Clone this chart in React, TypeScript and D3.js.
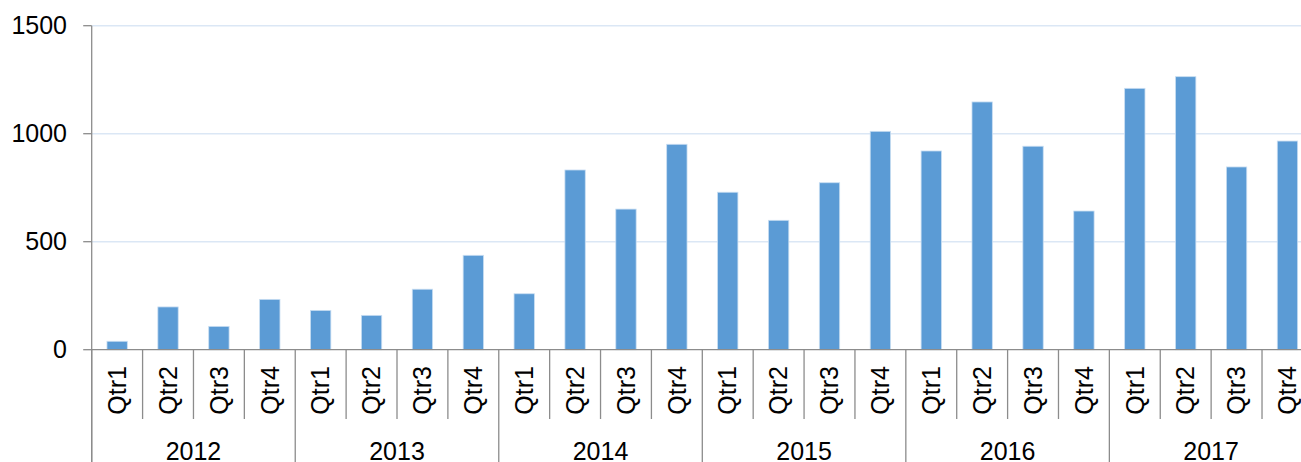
import React from "react";
import * as d3 from "d3";

const years = ["2012", "2013", "2014", "2015", "2016", "2017"];
const quarters = ["Qtr1", "Qtr2", "Qtr3", "Qtr4"];
const values = [
  39, 198, 108, 233,
  182, 159, 280, 437,
  259, 832, 651, 951,
  729, 599, 773, 1011,
  920, 1147, 942, 642,
  1210, 1264, 846, 966,
];
const yTicks = [0, 500, 1000, 1500];

const W = 1301;
const H = 462;
const X0 = 91.7;
const X1 = 1312.9;
const Y0 = 349.7;
const Y1 = 25.7;
const FONT = "'Liberation Sans', Arial, sans-serif";

export default function App() {
  const idx = values.map((_, i) => i);
  const x = d3.scaleBand<number>().domain(idx).range([X0, X1]).paddingInner(0.6).paddingOuter(0.3);
  const y = d3.scaleLinear().domain([0, 1500]).range([Y0, Y1]);
  const step = x.step();
  const yearScale = d3.scaleBand<string>().domain(years).range([X0, X1]);

  return (
    <svg width={W} height={H} style={{ position: "absolute", left: 0, top: 0, background: "#fff" }}>
      {yTicks.filter((t) => t > 0).map((t) => (
        <line key={"g" + t} x1={X0} x2={X1} y1={y(t)} y2={y(t)} stroke="#dbe7f5" strokeWidth={1.5} />
      ))}
      {values.map((v, i) => (
        <rect
          key={"b" + i}
          x={x(i)}
          y={y(v)}
          width={x.bandwidth()}
          height={Y0 - y(v)}
          fill="#5b9bd5"
          stroke="#c9def2"
          strokeWidth={0.8}
        />
      ))}
      {/* y axis */}
      <line x1={X0} x2={X0} y1={Y1} y2={H} stroke="#8c8c8c" strokeWidth={1.3} />
      {yTicks.map((t) => (
        <g key={"t" + t}>
          <line x1={X0 - 8.5} x2={X0} y1={y(t)} y2={y(t)} stroke="#8c8c8c" strokeWidth={1.3} />
          <text x={67} y={y(t)} dy="0.35em" textAnchor="end" fontFamily={FONT} fontSize={25} fill="#000">
            {t}
          </text>
        </g>
      ))}
      {/* category axis */}
      <line x1={X0} x2={X1} y1={Y0} y2={Y0} stroke="#8c8c8c" strokeWidth={1.3} />
      {idx.map((i) => {
        const left = X0 + i * step;
        if (i % 4 === 0) {
          return <line key={"d" + i} x1={left} x2={left} y1={Y0} y2={H} stroke="#8c8c8c" strokeWidth={1.3} />;
        }
        return <line key={"d" + i} x1={left} x2={left} y1={Y0} y2={419} stroke="#8c8c8c" strokeWidth={1.3} />;
      })}
      {idx.map((i) => {
        const cx = (x(i) as number) + x.bandwidth() / 2;
        return (
          <text
            key={"q" + i}
            transform={`translate(${cx},366) rotate(-90)`}
            textAnchor="end"
            dy="0.35em"
            fontFamily={FONT}
            fontSize={25}
            fill="#000"
          >
            {quarters[i % 4]}
          </text>
        );
      })}
      {years.map((yr) => (
        <text
          key={yr}
          x={(yearScale(yr) as number) + yearScale.bandwidth() / 2}
          y={459.5}
          textAnchor="middle"
          fontFamily={FONT}
          fontSize={25}
          fill="#000"
        >
          {yr}
        </text>
      ))}
    </svg>
  );
}
